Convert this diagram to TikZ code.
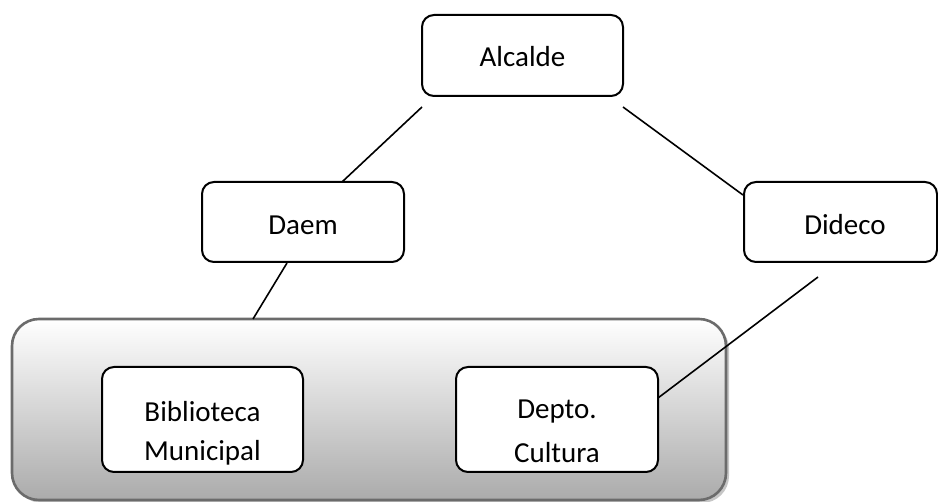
\documentclass[tikz,border=0pt]{standalone}
\usepackage{fontspec}
\setmainfont{Carlito}
\begin{document}
\begin{tikzpicture}[x=1pt,y=-1pt,
  orgbox/.style={draw=black, line width=2pt, rounded corners=12pt, fill=white, inner sep=0pt},
  lbl/.style={font=\fontsize{29}{35}\selectfont, anchor=base, inner sep=0pt},
  conn/.style={draw=black, line width=1.6pt},
]
\useasboundingbox (0,0) rectangle (938,502);
% group container with shadow and gradient
\fill[gray!45, rounded corners=27pt] (15,322) rectangle (729,503);
\path[draw=black!58, line width=2.6pt, rounded corners=27pt, top color=white, bottom color=black!33]
  (12,319) rectangle (726,500);
\node[coordinate] (grp) at (253,319) {};
% boxes
\node[orgbox, minimum width=201pt, minimum height=81pt,
  label={[lbl, yshift=-1pt]center:Alcalde}] (alc) at (522.5,55.5) {};
\node[orgbox, minimum width=202pt, minimum height=80pt,
  label={[lbl, yshift=-3pt]center:Daem}] (daem) at (303,222) {};
\node[orgbox, minimum width=193pt, minimum height=80pt,
  label={[lbl, yshift=-3pt, xshift=4.5pt]center:Dideco}] (did) at (840.5,222) {};
\node[orgbox, minimum width=201pt, minimum height=105pt,
  label={[lbl, yshift=8pt]center:Biblioteca},
  label={[lbl, yshift=-33pt]center:Municipal}] (bib) at (202.5,419.5) {};
\node[orgbox, minimum width=202pt, minimum height=105pt,
  label={[lbl, yshift=8pt]center:Depto.},
  label={[lbl, yshift=-33pt]center:Cultura}] (dep) at (557,419.5) {};
% connector ends
\coordinate (a1) at (422,107);
\coordinate (a2) at (623,107);
\coordinate (d1) at (342,182);
\coordinate (d2) at (287,263);
\coordinate (i1) at (743,195);
\coordinate (i2) at (818,277);
\coordinate (c1) at (658,398);
% connectors
\draw[conn] (a1) -- (d1);
\draw[conn] (a2) -- (i1);
\draw[conn] (d2) -- (grp);
\draw[conn] (i2) -- (c1);
\end{tikzpicture}
\end{document}
